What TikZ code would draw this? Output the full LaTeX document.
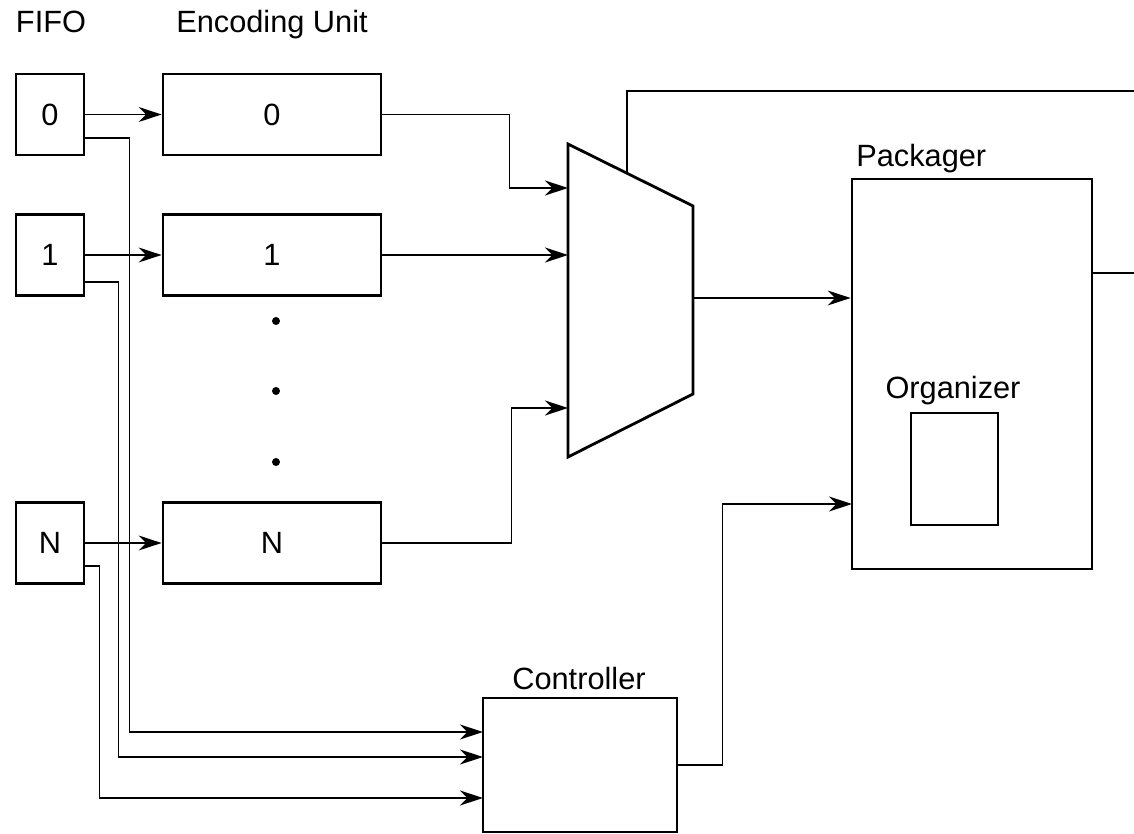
\documentclass[tikz,border=0pt]{standalone}
\usepackage{fontspec}
\setmainfont{Liberation Sans}
\usetikzlibrary{arrows.meta}
\begin{document}
\begin{tikzpicture}[x=0.02cm,y=-0.02cm,font=\fontsize{17.5}{21}\selectfont,
	box/.style={draw,line width=1.6pt,inner sep=0pt},
	fifo/.style={box,minimum width=1.36cm,minimum height=1.62cm},
	enc/.style={box,minimum width=4.36cm,minimum height=1.62cm},
	lbl/.style={anchor=base,inner sep=0pt},
	conn/.style={line width=0.8pt},
	arr/.style={conn,-{Stealth[length=0.46cm,width=0.3cm,inset=0.15cm]}}]
	\useasboundingbox (0,0) rectangle (1134,834);
	\node[lbl] (fifo-lbl) at (51,33) {FIFO};
	\node[lbl] (enc-lbl) at (272,33) {Encoding Unit};
	\foreach \i/\y in {0/114.5,1/255,N/543}{
		\node[fifo] (f\i) at (50,\y) {\i};
		\node[enc] (e\i) at (272,\y) {\i};
		\draw[arr] (f\i) -- (e\i);}
	\foreach \y in {321,391,462} \fill (276,\y) circle (0.08cm);
	% selector
	\draw[line width=1.6pt,line join=miter] (568,144) coordinate (mux-a) -- (693,206) coordinate (mux-b)
		-- (693,394) coordinate (mux-c) -- (568,457) coordinate (mux-d) -- cycle;
	\path (568,188) coordinate (mux-in0) (568,255) coordinate (mux-in1) (568,408) coordinate (mux-inN)
		(693,298) coordinate (mux-out) (627,173) coordinate (mux-tap);
	% packager, controller
	\node[box,minimum width=4.8cm,minimum height=7.8cm] (pack) at (972,374) {};
	\node[lbl,anchor=base west] (pack-lbl) at (856,167) {Packager};
	\node[draw,line width=0.9pt,minimum width=1.74cm,minimum height=2.24cm] (org) at (954.5,469) {};
	\node[lbl] (org-lbl) at (953,399) {Organizer};
	\node[box,minimum width=3.88cm,minimum height=2.68cm] (ctl) at (580,765) {};
	\node[lbl] (ctl-lbl) at (579,690) {Controller};
	\path (483,732) coordinate (ctl-in0) (483,757) coordinate (ctl-in1) (483,798) coordinate (ctl-inN)
		(852,504) coordinate (pack-in) (1134,91) coordinate (top-end) (1134,273) coordinate (pk-end);
	% connectors
	\draw[arr] ([yshift=-0.47cm]f0.east) -- ++(44,0) |- (ctl-in0);
	\draw[arr] ([yshift=-0.54cm]f1.east) -- ++(33,0) |- (ctl-in1);
	\draw[arr] ([yshift=-0.46cm]fN.east) -- ++(14,0) |- (ctl-inN);
	\draw[arr] (e0.east) -- ++(127,0) |- (mux-in0);
	\draw[arr] (e1.east) -- (mux-in1);
	\draw[arr] (eN.east) -- ++(129,0) |- (mux-inN);
	\draw[arr] (mux-out) -- (mux-out -| pack.west);
	\draw[conn] (mux-tap) |- (top-end);
	\draw[conn] (pack.east |- pk-end) -- (pk-end);
	\draw[arr] (ctl.east) -- ++(44,0) |- (pack-in);
\end{tikzpicture}
\end{document}
